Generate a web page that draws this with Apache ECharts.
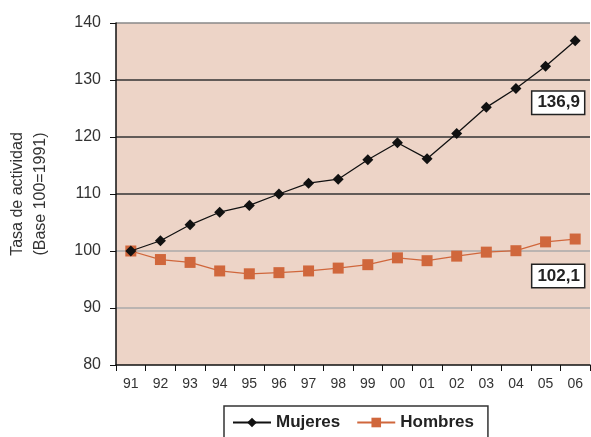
<!DOCTYPE html>
<html><head><meta charset="utf-8">
<script src="https://cdn.jsdelivr.net/npm/echarts@6/dist/echarts.min.js"></script>
<style>html,body{margin:0;padding:0;background:#fff}#c{width:591px;height:437px}</style>
</head><body><div id="c"></div>
<script>
const years = ['91','92','93','94','95','96','97','98','99','00','01','02','03','04','05','06'];
const mujeres = [100, 101.8, 104.6, 106.8, 108.0, 110.0, 111.9, 112.6, 116.0, 119.0, 116.2, 120.6, 125.2, 128.5, 132.4, 136.9];
const hombres = [100, 98.5, 98.0, 96.5, 96.0, 96.2, 96.5, 97.0, 97.6, 98.8, 98.3, 99.1, 99.8, 100.05, 101.6, 102.1];
const yTicks = [80, 90, 100, 110, 120, 130, 140];
const endLabels = ['136,9', '102,1'];

const font = 'Liberation Sans, Arial, sans-serif';
const chart = echarts.init(document.getElementById('c'));
const lastLabel = (txt, off) => ({
  show: true, position: 'inside', offset: off, formatter: txt,
  fontFamily: font, fontSize: 17, fontWeight: 'bold', color: '#222',
  backgroundColor: '#fff', borderColor: '#222', borderWidth: 1.5, padding: [3, 4, 2, 5]
});
chart.setOption({
  animation: false,
  grid: { left: 116, right: 1, top: 23, bottom: 72, outerBoundsMode: 'none', containLabel: false, show: true, backgroundColor: '#edd4c7', borderWidth: 0 },
  xAxis: {
    type: 'category', data: years, boundaryGap: true,
    axisLine: { lineStyle: { color: '#111', width: 1.5 } },
    axisTick: { show: true, length: 6, lineStyle: { color: '#111' } },
    axisLabel: { fontFamily: font, fontSize: 14, color: '#333', margin: 12 }
  },
  yAxis: {
    type: 'value', min: yTicks[0], max: yTicks[yTicks.length - 1], interval: 10,
    name: 'Tasa de actividad\n(Base 100=1991)', nameLocation: 'middle', nameGap: 64, nameRotate: 90,
    nameTextStyle: { fontFamily: font, fontSize: 16, color: '#333', lineHeight: 23 },
    axisLine: { show: true, lineStyle: { color: '#111', width: 1.5 } },
    axisTick: { show: true, length: 6, lineStyle: { color: '#111' } },
    axisLabel: { fontFamily: font, fontSize: 16, color: '#333', margin: 15 },
    splitLine: { show: true, lineStyle: { color: ['rgba(0,0,0,0)', '#aaa', '#aaa', '#333', '#333', '#333', '#888'], width: 1.5 } }
  },
  legend: {
    left: 224, top: 406, itemWidth: 38, itemHeight: 12, itemGap: 16,
    borderColor: '#333', borderWidth: 1.5, padding: [8, 14, 14, 8],
    textStyle: { fontFamily: font, fontSize: 17, fontWeight: 'bold', color: '#222' },
    data: ['Mujeres', 'Hombres']
  },
  series: [
    {
      name: 'Mujeres', type: 'line', data: mujeres.map((v, i) => i === mujeres.length - 1 ? { value: v, label: lastLabel(endLabels[0], [-17, 62]) } : v),
      symbol: 'diamond', symbolSize: 11,
      lineStyle: { color: '#111', width: 1.3 }, itemStyle: { color: '#111' }, z: 3
    },
    {
      name: 'Hombres', type: 'line', data: hombres.map((v, i) => i === hombres.length - 1 ? { value: v, label: lastLabel(endLabels[1], [-17, 37]) } : v),
      symbol: 'rect', symbolSize: 11,
      lineStyle: { color: '#d0673c', width: 1.3 }, itemStyle: { color: '#d0673c' }, z: 2
    }
  ]
});
</script></body></html>
